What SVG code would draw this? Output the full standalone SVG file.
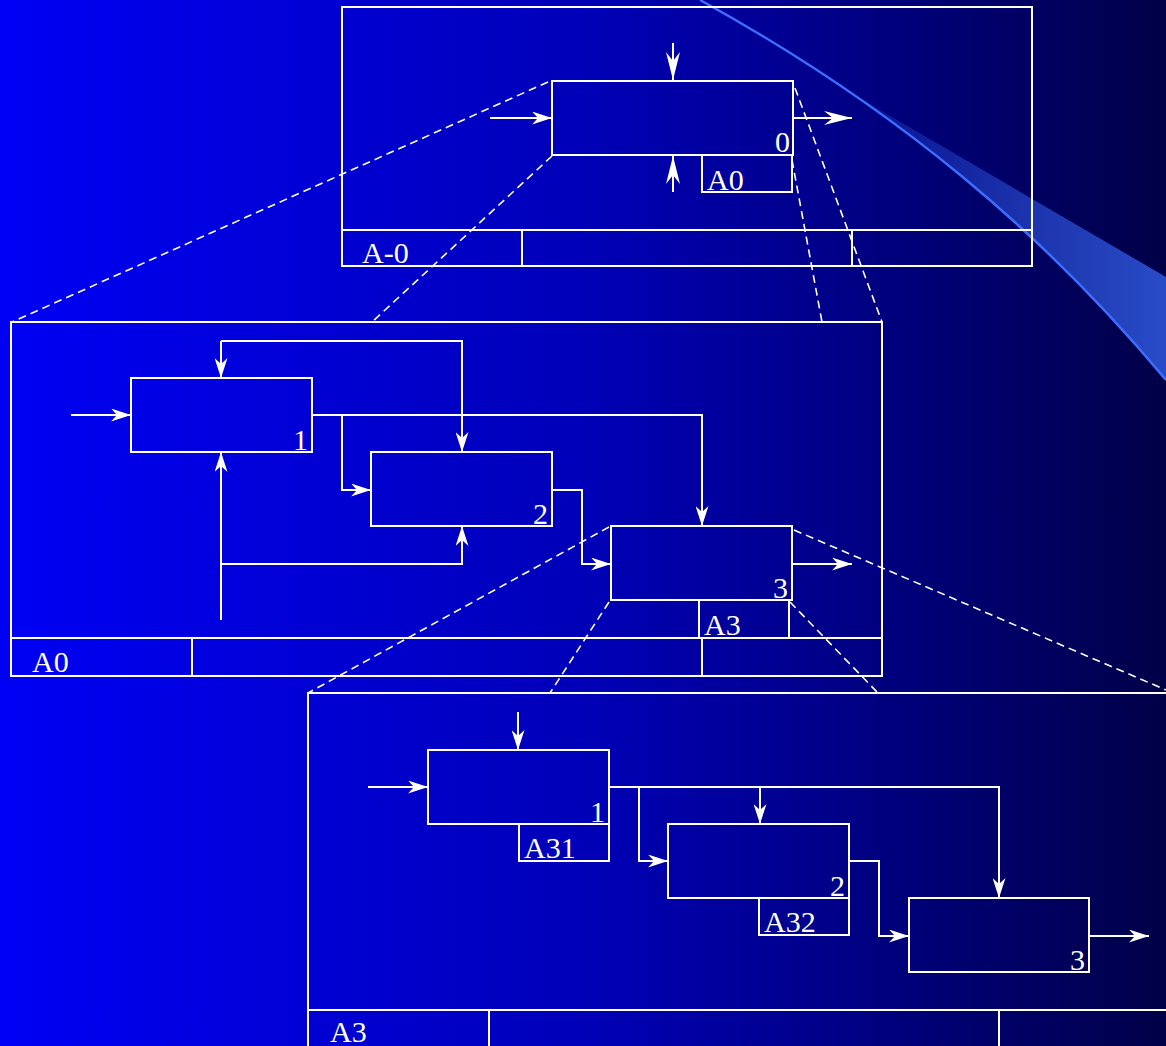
<svg xmlns="http://www.w3.org/2000/svg" width="1166" height="1046" viewBox="0 0 1166 1046">
<defs>
<linearGradient id="bg" x1="0" y1="0" x2="1" y2="0">
<stop offset="0" stop-color="#0000f5"/>
<stop offset="0.5" stop-color="#0000b8"/>
<stop offset="1" stop-color="#000048"/>
</linearGradient>
<linearGradient id="band" x1="856" y1="0" x2="1166" y2="0" gradientUnits="userSpaceOnUse">
<stop offset="0" stop-color="#3a6cff" stop-opacity="0.15"/>
<stop offset="0.5" stop-color="#3a6cff" stop-opacity="0.45"/>
<stop offset="1" stop-color="#3a6cff" stop-opacity="0.7"/>
</linearGradient>
<marker id="ah" viewBox="0 0 20 13" refX="20" refY="6.5" markerWidth="20" markerHeight="13" markerUnits="userSpaceOnUse" orient="auto">
<path d="M0,0 L20,6.5 L0,13 L6,6.5 Z" fill="#fff"/>
</marker>
<marker id="ahl" viewBox="0 0 28 14" refX="28" refY="7" markerWidth="28" markerHeight="14" markerUnits="userSpaceOnUse" orient="auto">
<path d="M0,0 L28,7 L0,14 L9,7 Z" fill="#fff"/>
</marker>
<style>
.fr{fill:none;stroke:#fff;stroke-width:2}
.bx{fill:none;stroke:#fff;stroke-width:2}
.ln{fill:none;stroke:#fff;stroke-width:2}
.ar{fill:none;stroke:#fff;stroke-width:2;marker-end:url(#ah)}
.al{fill:none;stroke:#fff;stroke-width:2;marker-end:url(#ahl)}
.ds{fill:none;stroke:#fff;stroke-width:1.6;stroke-dasharray:8 5}
.t{font-family:"Liberation Serif","Times New Roman",serif;font-size:30px;fill:#fff}
.n{font-family:"Liberation Serif","Times New Roman",serif;font-size:30px;fill:#fff;text-anchor:end}
</style>
</defs>
<rect x="0" y="0" width="1166" height="1046" fill="url(#bg)"/>
<g id="swoosh">
<path d="M856,96 L1166,277 L1166,380 C1079.6,276.3 979.7,182 856,96 Z" fill="url(#band)"/>
<path d="M700,0 C900,110 1046,236 1166,380" fill="none" stroke="#3d6cff" stroke-width="2.5"/>
</g>

<g id="frame-A-0">
<rect class="fr" x="342" y="7" width="690" height="259"/>
<line class="ln" x1="342" y1="230" x2="1032" y2="230"/>
<line class="ln" x1="522" y1="230" x2="522" y2="266"/>
<line class="ln" x1="852" y1="230" x2="852" y2="266"/>
<text class="t" x="362" y="263">A-0</text>
</g>
<g id="node-0">
<rect class="bx" x="552" y="81" width="241" height="74"/>
<text class="n" x="790" y="152">0</text>
<rect class="bx" x="702" y="155" width="90" height="37"/>
<text class="t" x="707" y="190">A0</text>
</g>

<g id="frame-A0">
<rect class="fr" x="11" y="322" width="871" height="354"/>
<line class="ln" x1="11" y1="638" x2="882" y2="638"/>
<line class="ln" x1="192" y1="638" x2="192" y2="676"/>
<line class="ln" x1="702" y1="638" x2="702" y2="676"/>
<text class="t" x="32" y="672">A0</text>
</g>
<g id="node-A0-1">
<rect class="bx" x="131" y="378" width="181" height="74"/>
<text class="n" x="308" y="450">1</text>
</g>
<g id="node-A0-2">
<rect class="bx" x="371" y="452" width="181" height="74"/>
<text class="n" x="548" y="524">2</text>
</g>
<g id="node-A0-3">
<rect class="bx" x="611" y="526" width="181" height="74"/>
<text class="n" x="788" y="598">3</text>
<rect class="bx" x="699" y="600" width="90" height="38"/>
<text class="t" x="704" y="635">A3</text>
</g>

<g id="frame-A3">
<rect class="fr" x="308" y="693" width="900" height="400"/>
<line class="ln" x1="308" y1="1010" x2="1166" y2="1010"/>
<line class="ln" x1="489" y1="1010" x2="489" y2="1046"/>
<line class="ln" x1="999" y1="1010" x2="999" y2="1046"/>
<text class="t" x="330" y="1042">A3</text>
</g>
<g id="node-A3-1">
<rect class="bx" x="428" y="750" width="181" height="74"/>
<text class="n" x="605" y="822">1</text>
<rect class="bx" x="519" y="824" width="90" height="37"/>
<text class="t" x="524" y="858">A31</text>
</g>
<g id="node-A3-2">
<rect class="bx" x="668" y="824" width="181" height="74"/>
<text class="n" x="845" y="896">2</text>
<rect class="bx" x="759" y="898" width="90" height="37"/>
<text class="t" x="764" y="932">A32</text>
</g>
<g id="node-A3-3">
<rect class="bx" x="909" y="898" width="180" height="74"/>
<text class="n" x="1085" y="970">3</text>
</g>

<g id="connectors">
<path class="al" d="M673,43 V80"/>
<path class="ar" d="M490,118 H552"/>
<path class="al" d="M793,118 H852"/>
<path class="al" d="M673,192 V156"/>
<path class="ds" d="M548,82 L12,322"/>
<path class="ds" d="M552,156 L372,322"/>
<path class="ds" d="M795,88 L882,322"/>
<path class="ds" d="M792,160 L822,322"/>
<path class="ar" d="M71,415 H131"/>
<path class="ar" d="M221,341 H462 V452"/>
<path class="ar" d="M221,341 V378"/>
<path class="ar" d="M312,415 H702 V526"/>
<path class="ar" d="M342,415 V490 H371"/>
<path class="ar" d="M552,490 H582 V564 H611"/>
<path class="ar" d="M221,620 V452"/>
<path class="ar" d="M221,564 H462 V526"/>
<path class="ar" d="M792,564 H852"/>
<path class="ds" d="M609,527 L308,693"/>
<path class="ds" d="M609,602 L550,693"/>
<path class="ds" d="M794,530 L1166,690"/>
<path class="ds" d="M790,602 L878,693"/>
<path class="ar" d="M518,712 V750"/>
<path class="ar" d="M368,787 H428"/>
<path class="ar" d="M609,787 H999 V898"/>
<path class="ar" d="M639,787 V861 H668"/>
<path class="ar" d="M760,787 V824"/>
<path class="ar" d="M849,861 H879 V936 H909"/>
<path class="ar" d="M1089,936 H1149"/>
</g>
</svg>
